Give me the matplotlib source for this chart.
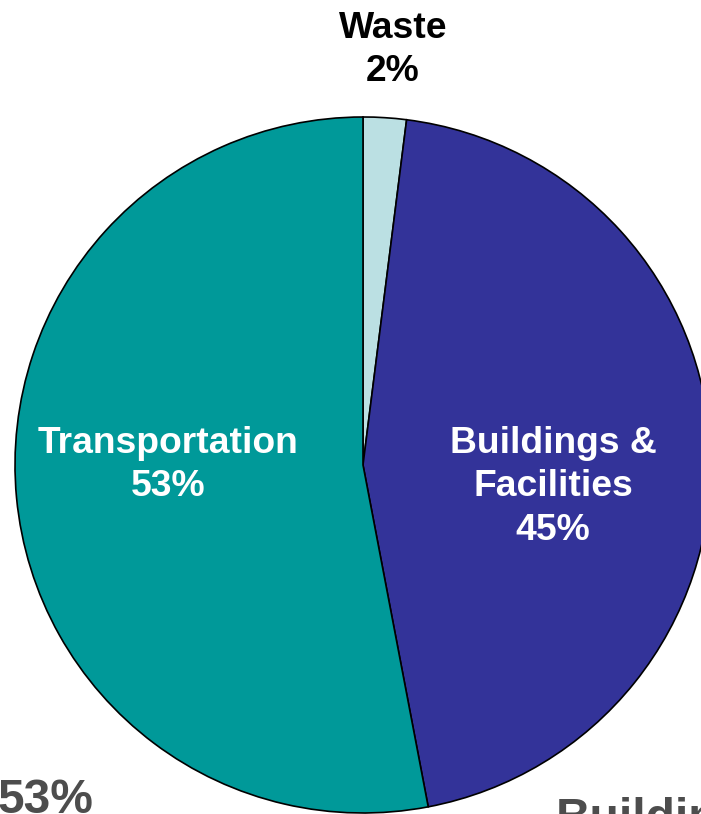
import matplotlib
matplotlib.use("Agg")
import matplotlib.pyplot as plt

categories = ["Waste", "Buildings &\nFacilities", "Transportation"]
values = [2, 45, 53]
colors = ["#BBE0E3", "#333399", "#009999"]

W, H = 701, 814
fig = plt.figure(figsize=(W / 100, H / 100), dpi=100)
ax = fig.add_axes([0, 0, 1, 1])

cx, cy, r = 363, H - 465, 348
ax.pie(values, colors=colors, startangle=90, counterclock=False,
       center=(cx, cy), radius=r, frame=True,
       wedgeprops=dict(edgecolor="black", linewidth=1.2))
ax.set_xlim(0, W)
ax.set_ylim(0, H)
ax.set_aspect("equal")
ax.axis("off")

font = dict(family=["Liberation Sans", "DejaVu Sans"], fontweight="bold", fontsize=26.8)

ax.text(393, H - 50, f"{categories[0]}\n{values[0]}%", color="black",
        ha="center", va="center", multialignment="center", linespacing=1.33, **font)
ax.text(168, H - 465, f"{categories[2]}\n{values[2]}%", color="white",
        ha="center", va="center", multialignment="center", linespacing=1.33, **font)
ax.text(553, H - 487, f"{categories[1]}\n{values[1]}%", color="white",
        ha="center", va="center", multialignment="center", linespacing=1.33, **font)

gfont = dict(family=["Liberation Sans", "DejaVu Sans"], fontweight="bold", fontsize=34.5)
ax.text(-2, H - 778, f"{values[2]}%", color="#4D4D4D", ha="left", va="top", **gfont)
ax.text(556, H - 797, "Buildings", color="#4D4D4D", ha="left", va="top", **gfont)

fig.savefig("out.png", dpi=100)
